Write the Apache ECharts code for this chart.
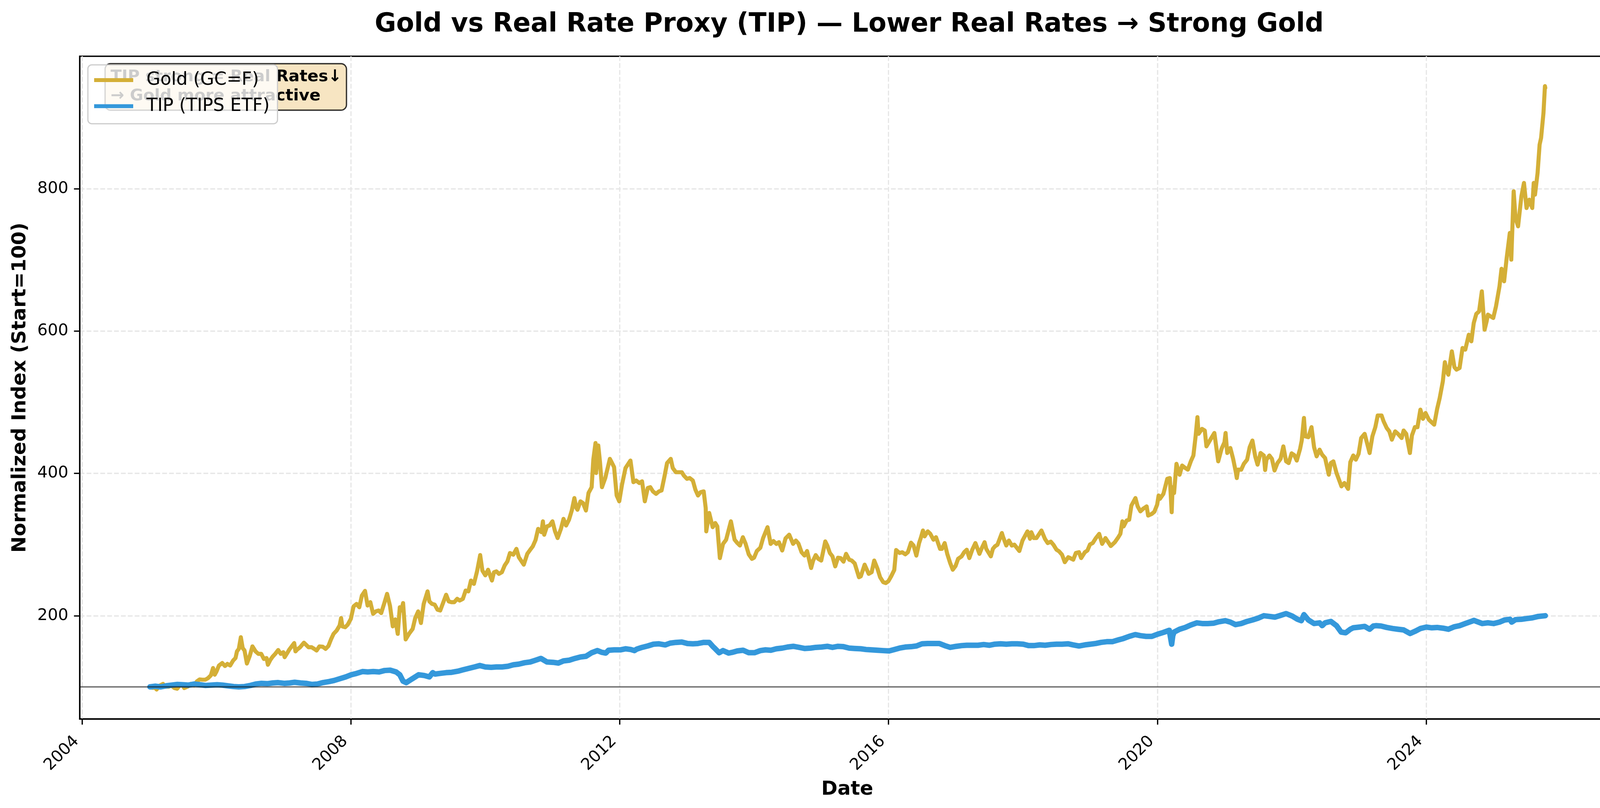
<!DOCTYPE html>
<html>
<head>
<meta charset="utf-8">
<script src="https://cdn.jsdelivr.net/npm/echarts@6/dist/echarts.min.js"></script>
<style>
  html, body { margin: 0; padding: 0; background: #ffffff; }
  #chart { width: 4164px; height: 2068px; }
</style>
</head>
<body>
<div id="chart"></div>
<script>
// ---- Data (normalized index, start = 100) ----
const goldDates = [
'2005-01-03','2005-01-14','2005-01-31','2005-02-08','2005-02-25','2005-03-15','2005-03-31','2005-04-15','2005-04-29','2005-05-16','2005-05-31','2005-06-15','2005-06-30','2005-07-08','2005-07-29','2005-08-15','2005-08-31','2005-09-15','2005-09-30','2005-10-14','2005-10-31','2005-11-15','2005-11-30','2005-12-12','2005-12-21','2005-12-30',
'2006-01-13','2006-01-31','2006-02-15','2006-02-28','2006-03-15','2006-03-31','2006-04-13','2006-04-21','2006-05-01','2006-05-12','2006-05-22','2006-06-01','2006-06-14','2006-06-30','2006-07-14','2006-07-31','2006-08-15','2006-08-31','2006-09-14','2006-09-29','2006-10-06','2006-10-20','2006-10-31','2006-11-15','2006-12-01','2006-12-15','2006-12-29',
'2007-01-05','2007-01-19','2007-01-31','2007-02-26','2007-03-05','2007-03-15','2007-03-30','2007-04-20','2007-05-01','2007-05-15','2007-06-01','2007-06-15','2007-06-28','2007-07-13','2007-07-31','2007-08-16','2007-08-31','2007-09-14','2007-09-28','2007-10-15','2007-10-31','2007-11-08','2007-11-15','2007-11-30','2007-12-14','2007-12-31',
'2008-01-15','2008-01-31','2008-02-15','2008-02-29','2008-03-17','2008-03-31','2008-04-15','2008-04-30','2008-05-15','2008-05-30','2008-06-13','2008-06-30','2008-07-15','2008-07-31','2008-08-15','2008-08-29','2008-09-11','2008-09-22','2008-09-30','2008-10-10','2008-10-24','2008-11-03','2008-11-14','2008-12-01','2008-12-15','2008-12-31',
'2009-01-15','2009-01-30','2009-02-20','2009-03-02','2009-03-16','2009-03-31','2009-04-15','2009-04-30','2009-05-15','2009-06-01','2009-06-15','2009-06-30','2009-07-15','2009-07-31','2009-08-14','2009-08-31','2009-09-15','2009-09-30','2009-10-14','2009-10-30','2009-11-16','2009-12-03','2009-12-15','2009-12-31',
'2010-01-15','2010-02-05','2010-02-16','2010-03-01','2010-03-15','2010-03-31','2010-04-15','2010-04-30','2010-05-14','2010-06-01','2010-06-18','2010-07-01','2010-07-28','2010-08-16','2010-08-31','2010-09-15','2010-09-30','2010-10-14','2010-11-01','2010-11-09','2010-11-16','2010-12-01','2010-12-15','2010-12-31',
'2011-01-14','2011-01-28','2011-02-15','2011-03-01','2011-03-15','2011-03-31','2011-04-15','2011-04-29','2011-05-10','2011-05-16','2011-06-01','2011-06-15','2011-07-01','2011-07-15','2011-08-01','2011-08-10','2011-08-22','2011-08-25','2011-09-06','2011-09-15','2011-09-26','2011-10-14','2011-11-08','2011-11-15','2011-12-01','2011-12-15','2011-12-29',
'2012-01-13','2012-02-01','2012-02-28','2012-03-15','2012-03-30','2012-04-16','2012-05-01','2012-05-16','2012-06-01','2012-06-15','2012-06-29','2012-07-16','2012-08-01','2012-08-15','2012-08-31','2012-09-14','2012-10-04','2012-10-15','2012-11-01','2012-11-15','2012-12-03','2012-12-14','2012-12-31',
'2013-01-15','2013-02-01','2013-02-15','2013-03-01','2013-03-15','2013-04-01','2013-04-12','2013-04-15','2013-05-01','2013-05-20','2013-06-03','2013-06-14','2013-06-28','2013-07-15','2013-08-01','2013-08-27','2013-09-16','2013-10-01','2013-10-15','2013-10-31','2013-11-15','2013-12-02','2013-12-19','2013-12-31',
'2014-01-15','2014-02-03','2014-02-18','2014-03-14','2014-03-31','2014-04-15','2014-05-01','2014-05-15','2014-06-02','2014-06-20','2014-07-10','2014-07-31','2014-08-15','2014-08-29','2014-09-15','2014-10-01','2014-10-15','2014-11-06','2014-11-17','2014-12-01','2014-12-15','2014-12-31',
'2015-01-22','2015-02-02','2015-02-16','2015-03-02','2015-03-17','2015-04-01','2015-04-15','2015-05-01','2015-05-15','2015-06-01','2015-06-15','2015-07-01','2015-07-24','2015-08-03','2015-08-24','2015-09-01','2015-09-15','2015-10-01','2015-10-15','2015-11-02','2015-11-16','2015-12-03','2015-12-17','2015-12-31',
'2016-01-15','2016-02-01','2016-02-11','2016-03-01','2016-03-15','2016-04-01','2016-04-15','2016-05-02','2016-05-16','2016-05-31','2016-06-15','2016-06-24','2016-07-06','2016-07-15','2016-08-01','2016-08-15','2016-09-01','2016-09-15','2016-10-07','2016-10-17','2016-11-01','2016-11-15','2016-12-01','2016-12-15','2016-12-30',
'2017-01-13','2017-02-01','2017-02-15','2017-03-01','2017-03-15','2017-03-31','2017-04-17','2017-05-09','2017-05-22','2017-06-06','2017-06-15','2017-07-10','2017-07-21','2017-08-01','2017-08-15','2017-09-08','2017-09-15','2017-10-02','2017-10-16','2017-11-01','2017-11-15','2017-12-12','2017-12-29',
'2018-01-25','2018-02-08','2018-02-15','2018-03-01','2018-03-15','2018-04-11','2018-04-30','2018-05-15','2018-06-01','2018-06-15','2018-07-02','2018-07-16','2018-08-01','2018-08-16','2018-09-04','2018-09-14','2018-10-01','2018-10-15','2018-11-01','2018-11-13','2018-12-03','2018-12-17','2018-12-31',
'2019-01-15','2019-02-01','2019-02-19','2019-03-07','2019-03-25','2019-04-23','2019-05-15','2019-06-03','2019-06-14','2019-06-25','2019-07-02','2019-07-18','2019-08-01','2019-08-13','2019-09-04','2019-09-16','2019-10-01','2019-10-15','2019-11-04','2019-11-12','2019-12-02','2019-12-16','2019-12-31',
'2020-01-08','2020-01-15','2020-02-03','2020-02-24','2020-03-09','2020-03-19','2020-03-24','2020-04-01','2020-04-14','2020-05-01','2020-05-15','2020-06-01','2020-06-15','2020-07-01','2020-07-15','2020-07-27','2020-08-06','2020-08-12','2020-08-31','2020-09-15','2020-09-24','2020-10-15','2020-11-06','2020-11-27','2020-12-15','2020-12-31',
'2021-01-06','2021-01-15','2021-02-01','2021-02-16','2021-03-01','2021-03-08','2021-03-15','2021-04-01','2021-04-15','2021-05-03','2021-05-17','2021-06-01','2021-06-16','2021-06-29','2021-07-15','2021-08-02','2021-08-09','2021-08-16','2021-09-01','2021-09-15','2021-09-29','2021-10-15','2021-11-01','2021-11-16','2021-12-01','2021-12-15','2021-12-31',
'2022-01-14','2022-01-28','2022-02-15','2022-02-24','2022-03-08','2022-03-15','2022-04-01','2022-04-18','2022-05-02','2022-05-16','2022-06-01','2022-06-15','2022-07-01','2022-07-21','2022-08-01','2022-08-15','2022-09-01','2022-09-28','2022-10-14','2022-11-03','2022-11-15','2022-12-01','2022-12-15','2022-12-30',
'2023-01-13','2023-02-01','2023-02-28','2023-03-15','2023-03-31','2023-04-13','2023-05-04','2023-05-15','2023-06-01','2023-06-15','2023-06-29','2023-07-17','2023-08-01','2023-08-21','2023-09-01','2023-09-15','2023-10-05','2023-10-16','2023-11-01','2023-11-15','2023-12-01','2023-12-15','2023-12-29',
'2024-01-16','2024-02-14','2024-03-01','2024-03-15','2024-04-01','2024-04-12','2024-04-22','2024-05-01','2024-05-20','2024-06-03','2024-06-14','2024-07-01','2024-07-17','2024-08-01','2024-08-20','2024-09-03','2024-09-16','2024-09-30','2024-10-15','2024-10-30','2024-11-14','2024-11-25','2024-12-02','2024-12-16','2024-12-31',
'2025-01-15','2025-02-03','2025-02-14','2025-02-28','2025-03-14','2025-03-31','2025-04-08','2025-04-21','2025-05-01','2025-05-15','2025-06-02','2025-06-16','2025-06-30','2025-07-15','2025-07-31','2025-08-08','2025-08-15','2025-08-29','2025-09-09','2025-09-17','2025-09-30','2025-10-08','2025-10-10'
];
const goldIndex = [
100,98.8,98.8,96.3,101.9,104.2,100.2,100.2,101.9,98.4,97.4,102.6,101.9,98.4,100.7,104.4,102.3,107.7,110.5,110.1,110.1,112.4,116.2,126.5,117.1,121.3,
130.0,133.5,129.3,132.3,130.0,137.0,140.5,149.9,153.4,169.8,154.6,151.1,132.8,144.0,156.9,149.9,146.4,146.4,139.3,140.5,131.1,138.2,142.2,146.4,151.8,146.4,148.7,
141.7,147.5,152.7,161.6,149.9,152.7,155.7,162.1,159.3,155.7,155.7,153.4,151.1,156.9,156.4,153.4,157.4,166.7,174.5,179.2,186.2,196.7,185.0,183.8,187.4,195.6,
213.1,216.6,211.9,228.3,234.9,214.3,219.0,202.6,206.1,207.3,203.7,217.8,230.7,213.6,185.0,194.8,174.5,211.9,207.3,217.8,166.7,171.0,175.6,181.5,196.7,206.1,
189.7,216.6,234.2,220.1,216.6,215.5,208.4,207.3,217.8,229.5,220.1,219.0,219.0,223.7,221.3,223.7,235.4,234.2,249.4,244.7,262.3,285.2,263.5,256.7,
264.6,249.4,261.1,262.3,258.8,261.1,270.5,276.3,288.1,285.7,293.9,282.2,271.7,286.9,292.3,297.4,306.3,322.0,317.3,332.6,313.8,325.5,326.7,332.6,
318.5,309.1,322.0,336.1,326.7,334.9,347.8,365.3,351.3,348.9,360.7,358.3,347.8,372.4,380.6,419.2,442.6,400.5,439.1,416.9,380.6,393.4,420.4,416.9,408.7,368.9,360.7,
384.1,407.5,418.0,387.6,389.9,386.4,388.8,360.7,379.4,380.6,374.7,371.2,374.7,375.9,395.8,414.5,420.4,407.5,401.6,401.6,401.6,397.0,392.3,
393.4,389.9,377.0,368.9,373.5,374.7,351.3,318.5,344.3,324.4,330.2,325.5,281.0,300.9,306.8,332.6,306.8,302.1,298.6,310.3,301.0,286.2,279.9,281.5,
290.9,295.5,309.1,324.4,300.9,304.9,300.9,303.3,291.6,308.7,313.8,300.9,305.6,301.4,289.2,284.5,290.9,267.0,277.5,285.2,279.9,277.5,
304.4,298.6,288.1,283.4,269.3,281.5,281.0,275.9,286.9,278.7,277.5,273.5,254.1,255.3,271.7,267.0,258.8,261.1,277.5,265.8,254.1,247.1,245.9,248.5,
255.3,264.2,292.3,288.1,289.2,286.2,289.2,302.6,298.6,284.5,302.1,309.1,319.7,311.5,318.5,315.0,306.8,310.3,293.9,293.9,302.1,286.9,274.0,264.6,269.8,
279.9,283.4,289.2,292.7,281.0,292.7,302.1,286.9,295.1,303.3,293.9,283.4,293.9,297.4,299.8,316.2,310.3,298.6,305.6,298.6,299.8,290.9,305.6,
318.5,308.0,317.3,309.1,309.1,319.7,308.0,302.1,304.0,299.8,292.7,290.4,285.7,275.2,282.2,281.0,278.7,288.1,289.2,281.0,289.2,291.6,300.2,
302.1,309.1,315.0,300.9,309.1,297.9,303.3,310.3,315.0,332.6,325.5,333.7,334.9,354.8,365.3,353.6,346.6,350.1,353.6,340.7,343.1,346.1,356.0,
368.9,364.2,371.2,392.3,393.4,345.4,380.6,372.4,413.3,398.1,411.0,407.5,405.2,416.9,425.1,452.0,479.0,455.5,462.5,460.2,437.9,447.3,456.7,416.9,434.4,443.8,
456.7,428.6,435.6,420.4,404.0,393.4,405.2,405.2,413.3,419.2,436.8,446.1,423.9,412.2,428.6,425.1,404.7,419.2,425.1,420.4,404.0,414.5,420.4,437.9,416.9,414.5,428.1,
425.8,418.0,434.4,446.1,477.8,452.0,450.8,464.9,436.8,423.9,433.3,426.2,421.5,398.1,414.5,416.9,400.5,381.7,386.4,378.2,415.7,425.1,419.2,427.4,
449.6,455.5,428.6,452.0,464.9,481.3,481.3,473.1,463.7,459.0,447.3,459.0,455.5,449.6,460.2,455.5,428.6,453.2,464.9,464.9,489.5,476.6,484.8,
475.4,468.4,490.6,505.9,529.3,556.2,543.3,538.6,571.4,549.2,545.7,548.0,576.1,573.8,594.8,585.5,611.2,624.1,627.6,655.7,601.9,613.6,623.0,620.6,618.3,
634.7,662.8,687.4,669.8,702.6,737.7,700.2,796.3,758.8,747.1,789.2,808.0,772.8,784.5,772.8,808.0,791.6,822.0,861.8,871.2,906.3,944.0,941.5
];

const tipDates = [
'2005-01-03','2005-02-01','2005-03-01','2005-04-01','2005-05-02','2005-06-01','2005-07-01','2005-08-01','2005-09-01','2005-10-03','2005-11-01','2005-12-01',
'2006-01-03','2006-02-01','2006-03-01','2006-04-03','2006-05-01','2006-06-01','2006-07-03','2006-08-01','2006-09-01','2006-10-02','2006-11-01','2006-12-01',
'2007-01-03','2007-02-01','2007-03-01','2007-04-02','2007-05-01','2007-06-01','2007-07-02','2007-08-01','2007-09-04','2007-10-01','2007-11-01','2007-12-03',
'2008-01-02','2008-02-01','2008-03-03','2008-04-01','2008-05-01','2008-06-02','2008-07-01','2008-08-01','2008-09-02','2008-09-22','2008-10-10','2008-10-27','2008-11-20','2008-12-15',
'2009-01-02','2009-02-02','2009-03-02','2009-03-20','2009-04-01','2009-05-01','2009-06-01','2009-07-01','2009-08-03','2009-09-01','2009-10-01','2009-11-02','2009-12-01','2009-12-31',
'2010-02-01','2010-03-01','2010-04-01','2010-05-03','2010-06-01','2010-07-01','2010-08-02','2010-09-01','2010-10-01','2010-10-29','2010-12-01',
'2011-01-03','2011-02-01','2011-03-01','2011-04-01','2011-05-02','2011-06-01','2011-07-01','2011-08-01','2011-09-01','2011-09-26','2011-10-17','2011-11-01','2011-12-01',
'2012-01-03','2012-02-01','2012-03-01','2012-03-20','2012-04-02','2012-05-01','2012-06-01','2012-07-02','2012-08-01','2012-09-04','2012-10-01','2012-11-01','2012-12-03',
'2013-01-02','2013-02-01','2013-03-01','2013-04-01','2013-05-01','2013-05-20','2013-06-03','2013-06-24','2013-07-15','2013-08-15','2013-09-03','2013-10-01','2013-11-01','2013-12-02',
'2014-01-02','2014-02-03','2014-03-03','2014-04-01','2014-05-01','2014-06-02','2014-07-01','2014-08-01','2014-09-02','2014-10-01','2014-11-03','2014-12-01',
'2015-01-02','2015-02-02','2015-03-02','2015-04-01','2015-05-01','2015-06-01','2015-07-01','2015-08-03','2015-09-01','2015-10-01','2015-11-02','2015-12-01',
'2016-01-04','2016-02-01','2016-03-01','2016-04-01','2016-05-02','2016-06-01','2016-07-01','2016-08-01','2016-09-01','2016-10-03','2016-11-01','2016-12-01',
'2017-01-03','2017-02-01','2017-03-01','2017-04-03','2017-05-01','2017-06-01','2017-07-03','2017-08-01','2017-09-01','2017-10-02','2017-11-01','2017-12-01',
'2018-01-02','2018-02-01','2018-03-01','2018-04-02','2018-05-01','2018-06-01','2018-07-02','2018-08-01','2018-09-04','2018-10-01','2018-11-01','2018-12-03',
'2019-01-02','2019-02-01','2019-03-01','2019-04-01','2019-05-01','2019-06-03','2019-07-01','2019-08-01','2019-09-03','2019-10-01','2019-11-01','2019-12-02',
'2020-01-02','2020-02-03','2020-03-06','2020-03-19','2020-03-25','2020-04-01','2020-05-01','2020-06-01','2020-07-01','2020-08-03','2020-09-01','2020-10-01','2020-11-02','2020-12-01',
'2021-01-04','2021-02-01','2021-03-01','2021-04-01','2021-05-03','2021-06-01','2021-07-01','2021-08-02','2021-09-01','2021-10-01','2021-11-01','2021-12-01',
'2022-01-03','2022-02-01','2022-02-22','2022-03-08','2022-04-01','2022-05-02','2022-06-01','2022-06-15','2022-07-01','2022-08-01','2022-09-01','2022-09-26','2022-10-21','2022-11-15','2022-12-01',
'2023-01-03','2023-02-01','2023-02-28','2023-03-20','2023-04-03','2023-05-01','2023-06-01','2023-07-03','2023-08-01','2023-09-01','2023-10-06','2023-11-01','2023-12-01',
'2024-01-02','2024-02-01','2024-03-01','2024-04-01','2024-05-01','2024-06-03','2024-07-01','2024-08-01','2024-09-03','2024-09-17','2024-10-01','2024-11-01','2024-12-02',
'2025-01-02','2025-02-03','2025-03-03','2025-04-01','2025-04-10','2025-05-01','2025-06-02','2025-07-01','2025-08-01','2025-09-02','2025-10-10'
];
const tipIndex = [
100,101,100,101.5,102.5,103.5,103,102.5,104,103,102,102.5,
103,102.5,101.5,100.5,100,100.5,102,104,105,104.5,105.5,106,
105,105.5,106.5,105.5,105,103.5,104,106,107.5,109,111.5,114,
117,119,121.5,121,121.5,121,123,123.5,121,117,108,106,110,114,
117,116,114,120,118,119,120,120.5,122,124,126,128,130,128,
127.5,128,128,129,131,132,134,135,137.5,140,135,
134.5,133.5,136.5,137.5,140,142,143,148,151,148.5,147.5,151.5,152,
152,153.5,152.5,151,153,155.5,157.5,160,160.5,159,161.5,162.5,163,
161,160.5,161,162.5,162.5,157,153.5,148,151,147.5,148.5,150.5,151.5,148,
148,151,152,151.5,153.5,154.5,156,157,155.5,154,154.5,155.5,
156,157,155.5,157,156.5,154.5,154,153.5,152.5,152,151.5,151,
150.5,152.5,154.5,156,156.5,157.5,160.5,161,161,161,158,155.5,
157,158,158.5,158.5,158.5,159.5,158.5,160,160.5,160,160.5,160.5,
160,158,158,159,158.5,159.5,160,160,160.5,159,157.5,159,
160,161,162.5,163.5,163.5,166,168,171,173.5,172,171,171,
174,176.5,179.5,160,172,177,181,183.5,187,190,189,189,189.5,191.5,
193,191,187.5,189,192,194,196.5,200,199,198,200.5,203,
199.5,195,193,201.5,194,189,190,186,190,192,186,177,176,181,183,
184,185,181,185.5,186,185.5,183.5,182,181,180,175,178,182,
184,183,183.5,182.5,181,184.5,186,189,192,193.5,192,189,190,
189,191,194,195,191,194.5,195,196,197,199,200
];

const yTicks = [200, 400, 600, 800];
const xTickYears = [2004, 2008, 2012, 2016, 2020, 2024];

const toTs = s => { const p = s.split('-'); return Date.UTC(+p[0], +p[1] - 1, +p[2]); };
const goldData = goldDates.map((d, i) => [toTs(d), goldIndex[i]]);
const tipData = tipDates.map((d, i) => [toTs(d), tipIndex[i]]);
const xTicks = xTickYears.map(y => Date.UTC(y, 0, 1));

const FONT = 'DejaVu Sans';
const chart = echarts.init(document.getElementById('chart'), null, { renderer: 'canvas', width: 4164, height: 2068 });

const gridStyle = { color: '#e7e7e7', width: 3.3, type: [12.3, 5.3] };

chart.setOption({
  animation: false,
  backgroundColor: '#ffffff',
  title: {
    text: 'Gold vs Real Rate Proxy (TIP) — Lower Real Rates → Strong Gold',
    left: 2169,
    top: 25,
    textAlign: 'center',
    textStyle: { fontFamily: FONT, fontSize: 67, fontWeight: 'bold', color: '#000' }
  },
  grid: {
    left: 204, right: 30, top: 144, bottom: 228,
    show: true, borderColor: '#000', borderWidth: 3.3, backgroundColor: 'transparent'
  },
  legend: {
    orient: 'vertical',
    left: 225, top: 166,
    z: 10,
    data: [{ name: 'Gold (GC=F)', icon: 'rect' }, { name: 'TIP (TIPS ETF)', icon: 'rect' }],
    itemWidth: 100, itemHeight: 10, itemGap: 16.7,
    padding: [14, 20, 20, 16],
    backgroundColor: 'rgba(255,255,255,0.8)',
    borderColor: '#cccccc', borderWidth: 3, borderRadius: 10,
    textStyle: { fontFamily: FONT, fontSize: 45.8, color: '#000', lineHeight: 50, padding: [0, 0, 0, 29] }
  },
  xAxis: {
    type: 'value',
    min: Date.UTC(2003, 11, 18),
    max: Date.UTC(2026, 9, 23),
    scale: true,
    name: 'Date',
    nameLocation: 'middle',
    nameGap: 156,
    nameTextStyle: { fontFamily: FONT, fontSize: 50, fontWeight: 'bold', color: '#000' },
    axisLine: { show: true, lineStyle: { color: '#000', width: 3.3 } },
    axisTick: { show: true, length: 14.6, lineStyle: { color: '#000', width: 3.3 }, customValues: xTicks },
    axisLabel: {
      show: true, rotate: 45, margin: 36, padding: [0, 21, 0, 0],
      fontFamily: FONT, fontSize: 41.7, color: '#000',
      customValues: xTicks,
      formatter: v => String(new Date(v).getUTCFullYear())
    },
    splitLine: { show: true, lineStyle: gridStyle }
  },
  yAxis: {
    type: 'value',
    min: 55, max: 986,
    name: 'Normalized Index (Start=100)',
    nameLocation: 'middle',
    nameGap: 127,
    nameTextStyle: { fontFamily: FONT, fontSize: 50, fontWeight: 'bold', color: '#000' },
    axisLine: { show: true, lineStyle: { color: '#000', width: 3.3 } },
    axisTick: { show: true, length: 14.6, lineStyle: { color: '#000', width: 3.3 }, customValues: yTicks },
    axisLabel: { show: true, margin: 29, fontFamily: FONT, fontSize: 41.7, color: '#000', customValues: yTicks },
    splitLine: { show: true, lineStyle: gridStyle }
  },
  graphic: [
    {
      type: 'rect', z: 3,
      shape: { x: 269, y: 163, width: 618, height: 119, r: 14 },
      style: { fill: 'rgba(245,222,179,0.8)', stroke: 'rgba(0,0,0,0.8)', lineWidth: 3.3 }
    },
    {
      type: 'text', z: 4, x: 283, y: 197,
      style: { text: 'TIP strong = Real Rates↓', font: 'bold 41.7px "DejaVu Sans"', fill: '#000', verticalAlign: 'middle', align: 'left' }
    },
    {
      type: 'text', z: 4, x: 283, y: 246,
      style: { text: '→ Gold more attractive', font: 'bold 41.7px "DejaVu Sans"', fill: '#000', verticalAlign: 'middle', align: 'left' }
    }
  ],
  series: [
    {
      name: 'Gold (GC=F)', type: 'line', data: goldData, z: 2,
      showSymbol: false, symbol: 'none',
      itemStyle: { color: '#D4AF37' },
      lineStyle: { color: '#D4AF37', width: 10.4, join: 'round', cap: 'round' }
    },
    {
      name: 'TIP (TIPS ETF)', type: 'line', data: tipData, z: 3,
      showSymbol: false, symbol: 'none',
      itemStyle: { color: '#3498DB' },
      lineStyle: { color: '#3498DB', width: 14, join: 'round', cap: 'round' }
    },
    {
      name: 'baseline', type: 'line', data: [], z: 5,
      markLine: {
        silent: true, symbol: 'none', label: { show: false },
        lineStyle: { color: 'rgba(0,0,0,0.5)', width: 4.2, type: 'solid' },
        data: [{ yAxis: 100 }]
      }
    }
  ]
});
</script>
</body>
</html>
